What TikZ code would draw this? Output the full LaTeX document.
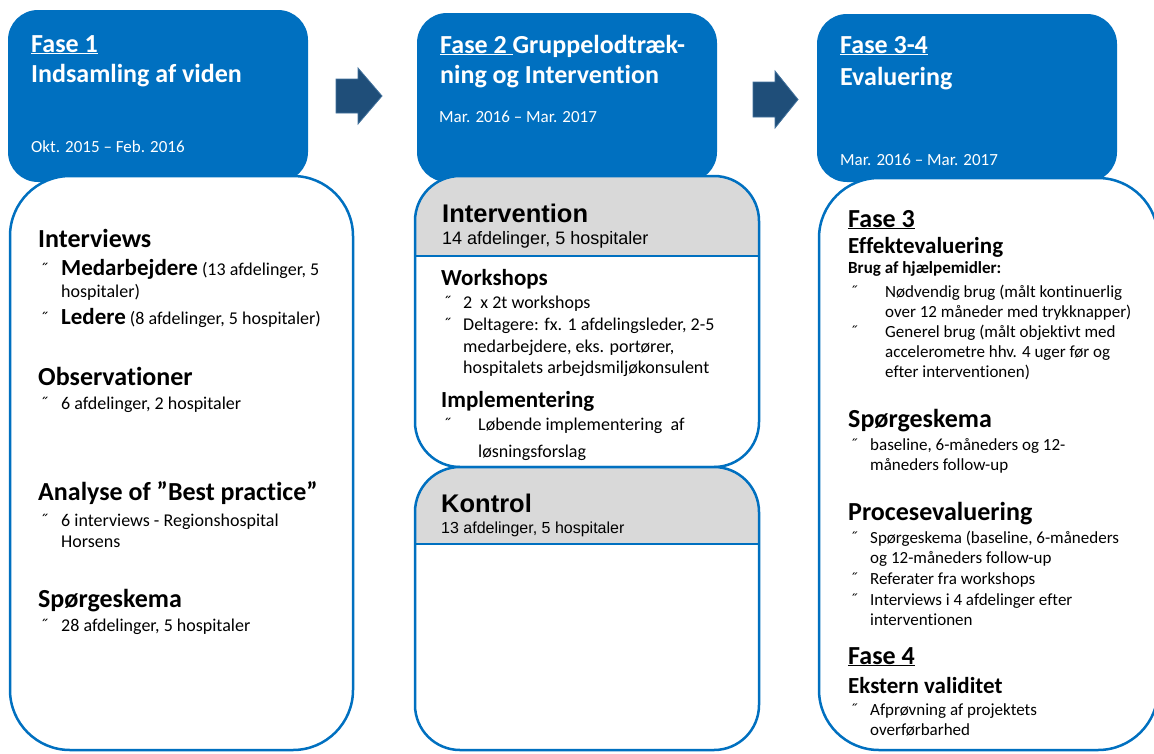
\documentclass[tikz,border=0pt]{standalone}
\usepackage{fontspec}
\setmainfont{Carlito}[Ligatures={NoCommon}]
\newfontfamily\arial{Liberation Sans}

\definecolor{fasebla}{HTML}{0070C0}
\definecolor{pilbla}{HTML}{1F4E79}
\definecolor{pilkant}{HTML}{41719C}
\definecolor{graa}{HTML}{D9D9D9}

\tikzset{
  hovedboks/.style={fill=fasebla, rounded corners=30pt},
  kropboks/.style={draw=fasebla, line width=2.5pt, fill=white, rounded corners=60pt},
  pil/.style={fill=pilbla, draw=pilkant, line width=0.8pt},
  tekst/.style={inner sep=0pt, anchor=base west},
  titel/.style={tekst, text=white, font=\bfseries\fontsize{26}{31}\selectfont},
  dato/.style={tekst, text=white, font=\fontsize{17}{20}\selectfont},
  overskrift/.style={tekst, font=\bfseries\fontsize{26}{31}\selectfont},
  underoverskrift/.style={tekst, font=\bfseries\fontsize{23}{28}\selectfont},
  brod/.style={tekst, font=\fontsize{18}{22}\selectfont},
  lille/.style={tekst, font=\fontsize{17}{20}\selectfont},
  gruppe/.style={tekst, font=\arial\bfseries\fontsize{25.5}{30}\selectfont},
  antal/.style={tekst, font=\arial\fontsize{18}{22}\selectfont},
}
% punkttegn foran en linje, med fast bredde
\newcommand{\pkt}[1]{\makebox[#1][l]{˝}}
\newcommand{\fed}[1]{{\bfseries\fontsize{23}{28}\selectfont #1}}

\begin{document}
\begin{tikzpicture}[x=1pt, y=-1pt]
\useasboundingbox[fill=white] (0,0) rectangle (1154,753);

% blaa overskriftsfelter
\fill[hovedboks] (8,10) rectangle (308,182);
\fill[hovedboks] (417,13) rectangle (717,182);
\fill[hovedboks] (817,14) rectangle (1117,182);

% pile mellem faserne
\draw[pil] (336,79) -- (358,79) -- (358,68) -- (382,96) -- (358,124) -- (358,113) -- (336,113) -- cycle;
\draw[pil] (753,82) -- (775,82) -- (775,71) -- (798,99.5) -- (775,128) -- (775,117) -- (753,117) -- cycle;

% fase 1
\draw[kropboks] (10,176) rectangle (353,750);
\node[titel] (f1titel) at (31,52) {\underline{Fase 1}};
\node[titel] (f1navn) at (31,82) {Indsamling af viden};
\node[dato] (f1dato) at (31,152) {Okt. 2015 – Feb. 2016};
\node[overskrift] (interv) at (38,247) {Interviews};
\node[brod] (interv1) at (40,275) {\pkt{21pt}\fed{Medarbejdere} (13 afdelinger, 5};
\node[brod] (interv2) at (61,297) {hospitaler)};
\node[brod] (interv3) at (40,324) {\pkt{21pt}\fed{Ledere} (8 afdelinger, 5 hospitaler)};
\node[overskrift] (obs) at (38,385) {Observationer};
\node[brod] (obs1) at (40,409) {\pkt{21pt}6 afdelinger, 2 hospitaler};
\node[overskrift] (analyse) at (38,500) {Analyse of ”Best practice”};
\node[brod] (analyse1) at (40,526) {\pkt{21pt}6 interviews - Regionshospital};
\node[brod] (analyse2) at (61,547) {Horsens};
\node[overskrift] (spm1) at (38,607) {Spørgeskema};
\node[brod] (spm1a) at (40,631) {\pkt{21pt}28 afdelinger, 5 hospitaler};

% fase 2: intervention og kontrol
\begin{scope}
  \clip[rounded corners=45pt] (415,176) rectangle (759,467);
  \fill[white] (415,176) rectangle (759,467);
  \fill[graa] (415,176) rectangle (759,256);
\end{scope}
\draw[kropboks, fill=none, rounded corners=45pt] (415,176) rectangle (759,467);
\draw[fasebla, line width=2.5pt] (415,256) -- (759,256);
\begin{scope}
  \clip[rounded corners=45pt] (415,467) rectangle (759,750);
  \fill[white] (415,467) rectangle (759,750);
  \fill[graa] (415,467) rectangle (759,544);
\end{scope}
\draw[kropboks, fill=none, rounded corners=45pt] (415,467) rectangle (759,750);
\draw[fasebla, line width=2.5pt] (415,544) -- (759,544);

\node[titel] (f2titel) at (440,53) {\underline{Fase 2\ }Gruppelodtræk-};
\node[titel] (f2navn) at (440,83) {ning og Intervention};
\node[dato] (f2dato) at (439,122) {Mar. 2016 – Mar. 2017};
\node[gruppe] (intgr) at (442,222) {Intervention};
\node[antal] (intantal) at (442,244) {14 afdelinger, 5 hospitaler};
\node[underoverskrift] (workshop) at (441,285) {Workshops};
\node[brod] (ws1) at (443,308) {\pkt{20pt}2~~x 2t workshops};
\node[brod] (ws2) at (443,330) {\pkt{20pt}Deltagere: fx. 1 afdelingsleder, 2-5};
\node[brod] (ws3) at (463,352) {medarbejdere, eks. portører,};
\node[brod] (ws4) at (463,373) {hospitalets arbejdsmiljøkonsulent};
\node[underoverskrift] (impl) at (441,407) {Implementering};
\node[brod] (impl1) at (443,430) {\pkt{35pt}Løbende implementering\ \ af};
\node[brod] (impl2) at (478,457) {løsningsforslag};
\node[gruppe] (kontgr) at (441,512) {Kontrol};
\node[antal, font=\arial\fontsize{16}{20}\selectfont] (kontantal) at (441,533) {13 afdelinger, 5 hospitaler};

% fase 3-4
\draw[kropboks] (819,178) rectangle (1158,750);
\node[titel] (f3titel) at (840,53) {\underline{Fase 3-4}};
\node[titel] (f3navn) at (840,85) {Evaluering};
\node[dato] (f3dato) at (840,165) {Mar. 2016 – Mar. 2017};
\node[overskrift] (fase3) at (848,227) {\underline{Fase 3}};
\node[underoverskrift] (effekt) at (848,253) {Effektevaluering};
\node[lille, font=\bfseries\fontsize{17}{20}\selectfont] (brug) at (848,273) {Brug af hjælpemidler:};
\node[lille] (brug1) at (850,297) {\pkt{35pt}Nødvendig brug (målt kontinuerlig};
\node[lille] (brug2) at (885,317) {over 12 måneder med trykknapper)};
\node[lille] (brug3) at (850,337) {\pkt{35pt}Generel brug (målt objektivt med};
\node[lille] (brug4) at (885,357) {accelerometre hhv. 4 uger før og};
\node[lille] (brug5) at (885,377) {efter interventionen)};
\node[overskrift] (spm3) at (848,427) {Spørgeskema};
\node[lille] (spm3a) at (850,450) {\pkt{20pt}baseline, 6-måneders og 12-};
\node[lille] (spm3b) at (870,470) {måneders follow-up};
\node[overskrift] (proces) at (848,520) {Procesevaluering};
\node[lille] (proces1) at (850,543) {\pkt{20pt}Spørgeskema (baseline, 6-måneders};
\node[lille] (proces2) at (870,563) {og 12-måneders follow-up};
\node[lille] (proces3) at (850,584) {\pkt{20pt}Referater fra workshops};
\node[lille] (proces4) at (850,605) {\pkt{20pt}Interviews i 4 afdelinger efter};
\node[lille] (proces5) at (870,625) {interventionen};
\node[overskrift] (fase4) at (848,664) {\underline{Fase 4}};
\node[underoverskrift] (ekstern) at (848,693) {Ekstern validitet};
\node[lille] (ekstern1) at (850,715) {\pkt{20pt}Afprøvning af projektets};
\node[lille] (ekstern2) at (870,735) {overførbarhed};

\end{tikzpicture}
\end{document}
